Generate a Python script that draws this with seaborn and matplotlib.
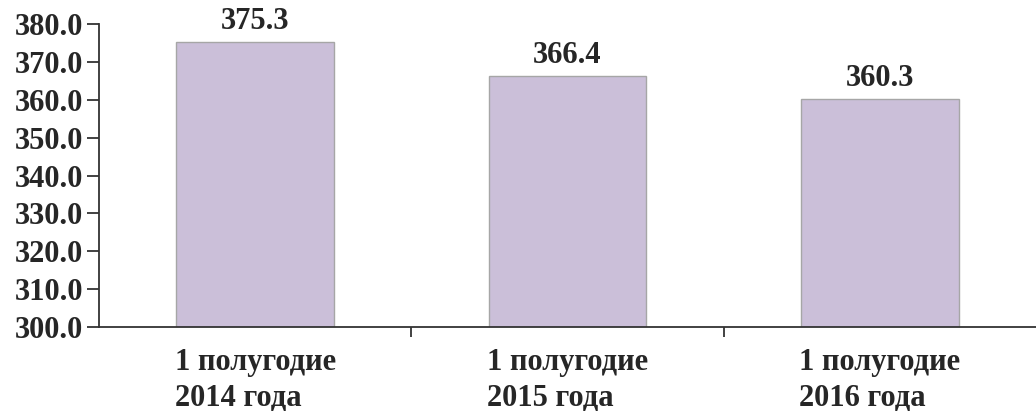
import matplotlib
matplotlib.use('Agg')
import matplotlib.pyplot as plt
import seaborn as sns
import pandas as pd

# data
categories = ['1 полугодие\n2014 года', '1 полугодие\n2015 года', '1 полугодие\n2016 года']
values = [375.3, 366.4, 360.3]
y_ticks = [300, 310, 320, 330, 340, 350, 360, 370, 380]

sns.set_style('white')
plt.rcParams['font.family'] = ['Liberation Serif', 'DejaVu Serif']
plt.rcParams['font.weight'] = 'bold'

df = pd.DataFrame({'period': categories, 'value': values})

fig = plt.figure(figsize=(10.36, 4.11), dpi=100)
ax = fig.add_axes([0.0956, 0.2044, 0.9044, 0.737])

sns.barplot(data=df, x='period', y='value', color='#cbbfd9', saturation=1,
            edgecolor='#a6a6a6', linewidth=1.0, width=0.505, ax=ax)

ax.set_xlim(-0.5, 2.5)
ax.set_ylim(300, 380)
ax.set_yticks(y_ticks)
ax.set_yticklabels([f'{v:.1f}' for v in y_ticks], fontsize=22, fontweight='bold')
ax.set_xticks(range(len(categories)))
ax.set_xticklabels(categories, fontsize=22, fontweight='bold',
                   linespacing=1.3, multialignment='left')
ax.set_xticks([0.5, 1.5], minor=True)
ax.tick_params(axis='x', which='major', bottom=True, length=0, pad=15)
ax.tick_params(axis='x', which='minor', bottom=True, length=7.5, width=1.3,
               color='#333333', direction='out')
ax.tick_params(axis='y', left=True, length=8.5, width=1.3, color='#333333',
               pad=3, direction='out')
ax.set_xlabel('')
ax.set_ylabel('')

for side in ['top', 'right']:
    ax.spines[side].set_visible(False)
for side in ['left', 'bottom']:
    ax.spines[side].set_color('#333333')
    ax.spines[side].set_linewidth(1.3)

ax.bar_label(ax.containers[0], labels=[f'{v:.1f}' for v in values],
             fontsize=22, fontweight='bold', padding=4)

fig.savefig('out.png', dpi=100)
